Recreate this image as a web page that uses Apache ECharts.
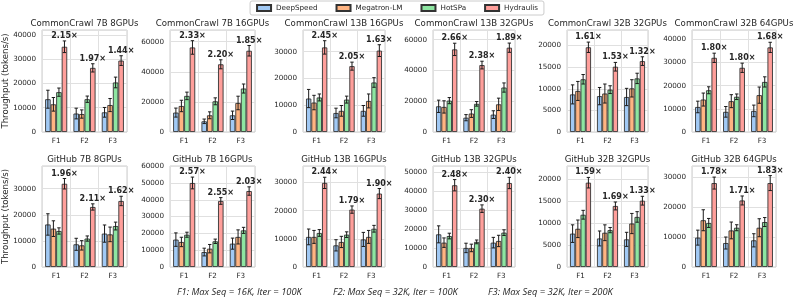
<!DOCTYPE html>
<html><head><meta charset="utf-8">
<script src="https://cdn.jsdelivr.net/npm/echarts@6/dist/echarts.min.js"></script>
<style>html,body{margin:0;padding:0;background:#fff}#c{width:794px;height:303px}</style>
</head><body><div id="c"></div>
<script>
// ---------------- DATA ----------------
const categories = ['F1', 'F2', 'F3'];
const seriesNames = ['DeepSpeed', 'Megatron-LM', 'HotSPa', 'Hydraulis'];
const panelTitles = [
  'CommonCrawl 7B 8GPUs', 'CommonCrawl 7B 16GPUs', 'CommonCrawl 13B 16GPUs',
  'CommonCrawl 13B 32GPUs', 'CommonCrawl 32B 32GPUs', 'CommonCrawl 32B 64GPUs',
  'GitHub 7B 8GPUs', 'GitHub 7B 16GPUs', 'GitHub 13B 16GPUs',
  'GitHub 13B 32GPUs', 'GitHub 32B 32GPUs', 'GitHub 32B 64GPUs'
];
// one row per panel, values for F1, F2, F3
const deepspeed = [
  [13500, 7600, 8100], [12900, 7100, 11100], [12500, 7100, 7900],
  [16700, 9300, 11300], [8700, 8300, 8100], [10800, 8700, 9100],
  [16300, 8700, 12800], [16300, 8900, 13900], [10700, 7700, 9800],
  [17300, 10100, 12900], [7600, 6500, 6300], [9800, 8000, 8900]
];
const deepspeedErr = [
  [3700, 2200, 2000], [3000, 1500, 2800], [3400, 1800, 2000],
  [4000, 2000, 2500], [2200, 2000, 2000], [2500, 2300, 2500],
  [4100, 2300, 3300], [4000, 2300, 3300], [2800, 2000, 2500],
  [4500, 2500, 2800], [2000, 1700, 1600], [2500, 2000, 2200]
];
const megatron = [
  [11400, 7400, 11100], [17300, 11100, 19300], [11000, 7900, 11600],
  [16300, 12000, 18000], [9500, 8900, 10100], [14000, 13300, 15900],
  [14700, 8300, 12500], [14900, 10900, 17900], [10700, 8900, 10700],
  [12900, 10100, 13800], [8700, 7800, 9900], [15600, 12200, 13100]
];
const megatronErr = [
  [2800, 1700, 2700], [3800, 2300, 4500], [2700, 2000, 2600],
  [4000, 2500, 4000], [2200, 2200, 2000], [2800, 2800, 3500],
  [3000, 1800, 2800], [2800, 2500, 4200], [2300, 2000, 2300],
  [2500, 2000, 3000], [2000, 1800, 2300], [3500, 2800, 3000]
];
const hotspa = [
  [16400, 13500, 20400], [24000, 20400, 28900], [12900, 12100, 18500],
  [20400, 18300, 28900], [12200, 9800, 12400], [18000, 15200, 21600],
  [13800, 10900, 15700], [19200, 15300, 21800], [12100, 11500, 13600],
  [16400, 13300, 18200], [11900, 8400, 11400], [14700, 13100, 15000]
];
const hotspaErr = [
  [1700, 1300, 2200], [2500, 2300, 3000], [1300, 1300, 1800],
  [2000, 1500, 3000], [1100, 900, 1200], [1500, 1200, 2200],
  [1200, 1000, 1500], [1500, 1300, 1800], [1200, 1000, 1200],
  [1500, 1000, 1500], [1000, 600, 1200], [1500, 1000, 1500]
];
const hydraulis = [
  [35100, 26400, 29400], [56200, 45000, 54000], [31600, 24600, 30400],
  [53700, 43500, 54800], [19600, 15100, 16400], [32000, 27700, 36500],
  [31900, 23000, 25300], [50000, 39300, 45200], [29900, 20400, 26100],
  [43300, 30900, 44500], [19200, 13900, 15100], [28000, 22200, 28000]
];
const hydraulisErr = [
  [2400, 1700, 2000], [4500, 3000, 3500], [2500, 1500, 2200],
  [4000, 2500, 3000], [1200, 1000, 1000], [2000, 2000, 2200],
  [2000, 1200, 1800], [3500, 2000, 2500], [2000, 1300, 1800],
  [3000, 2000, 3000], [1200, 900, 1000], [2000, 1500, 2500]
];
const speedupLabels = [
  ['2.15×', '1.97×', '1.44×'], ['2.33×', '2.20×', '1.85×'], ['2.45×', '2.05×', '1.63×'],
  ['2.66×', '2.38×', '1.89×'], ['1.61×', '1.53×', '1.32×'], ['1.80×', '1.80×', '1.68×'],
  ['1.96×', '2.11×', '1.62×'], ['2.57×', '2.55×', '2.03×'], ['2.44×', '1.79×', '1.90×'],
  ['2.48×', '2.30×', '2.40×'], ['1.59×', '1.69×', '1.33×'], ['1.78×', '1.71×', '1.83×']
];
const yAxisMax = [42000, 67800, 38100, 66300, 23600, 44000, 38700, 60100, 35900, 53500, 23000, 33700];
const yAxisStep = [10000, 20000, 10000, 20000, 5000, 10000, 10000, 10000, 10000, 10000, 5000, 10000];
const yAxisTitle = 'Throughput (tokens/s)';
const footnotes = ['F1: Max Seq = 16K, Iter = 100K', 'F2: Max Seq = 32K, Iter = 100K', 'F3: Max Seq = 32K, Iter = 200K'];

// ---------------- LAYOUT / STYLE ----------------
const FONT = 'DejaVu Sans';
const TXT = '#262626';
const colors = ['#a1c9f4', '#ffb482', '#8de5a1', '#ff9f9b'];
const colLeft = [42, 170, 303, 433, 567, 692];
const colWidth = [85, 85, 82, 82, 81, 84];
const rowTop = [30, 166];
const rowHeight = [102, 101];
const BAR_FRAC = 0.195;

const values = [deepspeed, megatron, hotspa, hydraulis];
const errs = [deepspeedErr, megatronErr, hotspaErr, hydraulisErr];

const grids = [], xAxes = [], yAxes = [], series = [], graphics = [];

for (let p = 0; p < 12; p++) {
  const r = Math.floor(p / 6), c = p % 6;
  grids.push({left: colLeft[c], top: rowTop[r], width: colWidth[c], height: rowHeight[r],
    show: true, borderColor: '#cccccc', borderWidth: 1, backgroundColor: '#fff'});
  xAxes.push({type: 'category', gridIndex: p, data: categories,
    axisTick: {show: false}, axisLine: {show: false},
    axisLabel: {fontSize: 7.2, color: TXT, margin: 6, fontFamily: FONT},
    splitLine: {show: true, lineStyle: {color: '#e0e0e0', width: 1}}});
  const step = yAxisStep[p];
  yAxes.push({type: 'value', gridIndex: p, min: 0, max: yAxisMax[p], interval: step,
    axisTick: {show: false}, axisLine: {show: false},
    axisLabel: {fontSize: 7.2, color: TXT, margin: 6, fontFamily: FONT, showMaxLabel: false,
      formatter: v => (v % step === 0 ? String(v) : '')},
    splitLine: {show: true, lineStyle: {color: '#e0e0e0', width: 1}}});
  for (let s = 0; s < 4; s++) {
    series.push({type: 'bar', name: seriesNames[s], xAxisIndex: p, yAxisIndex: p,
      data: values[s][p], barWidth: (BAR_FRAC * 100) + '%', barGap: '0%',
      itemStyle: {color: colors[s], borderColor: '#333', borderWidth: 0.9},
      emphasis: {disabled: true}, silent: true});
  }
  // error bars
  const errData = [];
  for (let s = 0; s < 4; s++) for (let k = 0; k < 3; k++) errData.push([k, values[s][p][k], errs[s][p][k], s]);
  series.push({type: 'custom', xAxisIndex: p, yAxisIndex: p, data: errData, z: 5, silent: true,
    encode: {x: 0, y: 1},
    renderItem: (params, api) => {
      const k = api.value(0), v = api.value(1), e = api.value(2), s = api.value(3);
      const band = api.size([1, 0])[0];
      const bw = band * BAR_FRAC;
      const cx = api.coord([k, 0])[0] + (s - 1.5) * bw;
      const yt = api.coord([k, v + e])[1];
      const yb = api.coord([k, v - e])[1];
      const cap = 1.7;
      const st = {stroke: '#1a1a1a', lineWidth: 1};
      return {type: 'group', children: [
        {type: 'line', shape: {x1: cx, y1: yt, x2: cx, y2: yb}, style: st},
        {type: 'line', shape: {x1: cx - cap, y1: yt, x2: cx + cap, y2: yt}, style: st},
        {type: 'line', shape: {x1: cx - cap, y1: yb, x2: cx + cap, y2: yb}, style: st}
      ]};
    }});
  // speedup labels above Hydraulis bars
  const labData = [0, 1, 2].map(k => [k, hydraulis[p][k] + hydraulisErr[p][k]]);
  series.push({type: 'custom', xAxisIndex: p, yAxisIndex: p, data: labData, z: 6, silent: true,
    encode: {x: 0, y: 1}, clip: false,
    renderItem: (params, api) => {
      const k = api.value(0), top = api.value(1);
      const band = api.size([1, 0])[0];
      const bw = band * BAR_FRAC;
      const cx = api.coord([k, 0])[0] + 1.5 * bw;
      const y = api.coord([k, top])[1];
      return {type: 'text', x: cx, y: y - 5, style: {text: speedupLabels[p][params.dataIndex],
        fontSize: 8, fontWeight: 'bold', fontFamily: FONT, fill: TXT, align: 'center', verticalAlign: 'middle'}};
    }});
  graphics.push({type: 'text', x: colLeft[c] + colWidth[c] / 2, y: rowTop[r] - 6,
    style: {text: panelTitles[p], fontSize: 8.6, fontFamily: FONT, fill: TXT, align: 'center', verticalAlign: 'middle'}});
}
for (let r = 0; r < 2; r++) {
  graphics.push({type: 'text', x: 6, y: rowTop[r] + rowHeight[r] / 2, rotation: Math.PI / 2,
    style: {text: yAxisTitle, fontSize: 8.6, fontFamily: FONT, fill: TXT, align: 'center', verticalAlign: 'middle'}});
}
const footX = [177, 333, 488];
footnotes.forEach((t, i) => graphics.push({type: 'text', x: footX[i], y: 292,
  style: {text: t, fontSize: 9.4, fontStyle: 'italic', fontFamily: 'Open Sans', fill: TXT, align: 'left', verticalAlign: 'middle'}}));

const chart = echarts.init(document.getElementById('c'), null, {renderer: 'canvas'});
chart.setOption({
  animation: false,
  backgroundColor: '#fff',
  legend: {top: 1, left: 'center', data: seriesNames, icon: 'rect', itemWidth: 14, itemHeight: 6, itemGap: 18,
    padding: [3, 6], borderColor: '#cccccc', borderWidth: 1, borderRadius: 2, backgroundColor: '#fff',
    textStyle: {fontSize: 7.2, color: TXT, fontFamily: FONT}},
  grid: grids, xAxis: xAxes, yAxis: yAxes, series: series, graphic: graphics
});
</script></body></html>
